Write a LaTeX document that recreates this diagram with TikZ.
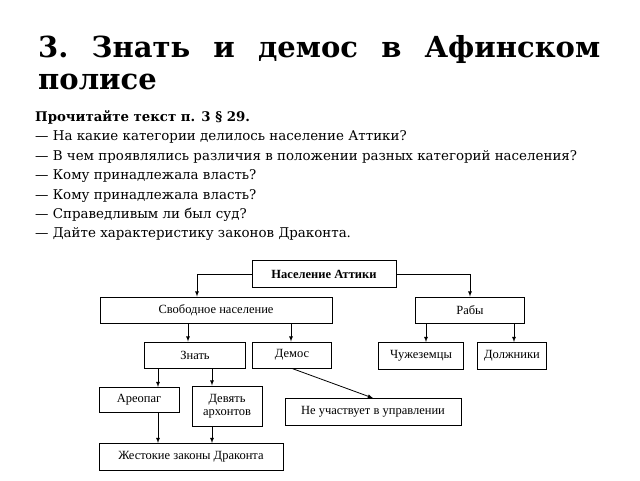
\documentclass[tikz,border=0pt]{standalone}
\usepackage{fontspec}
\setmainfont{DejaVu Serif}
\newfontfamily\boxfont{Liberation Serif}
\usetikzlibrary{positioning}

\begin{document}
\begin{tikzpicture}[x=1pt,y=-1pt,>=latex]
	\tikzstyle{every node}=[inner sep=0pt]
	\tikzstyle{box}=[draw,line width=0.9pt,font=\boxfont\fontsize{12.5}{13}\selectfont,align=center]
	\tikzstyle{question}=[anchor=base west,font=\fontsize{13.4}{14}\selectfont]
	\tikzstyle{line}=[line width=0.8pt]
	\useasboundingbox (0,0) rectangle (640,480);
	% heading
	\node[anchor=base west] (title1) at (38,57) {\fontsize{29}{32}\selectfont\bfseries\hbox to 562pt{3.\hfill Знать\hfill и\hfill демос\hfill в\hfill Афинском}};
	\node[anchor=base west] (title2) at (38,89) {\fontsize{29}{32}\selectfont\bfseries полисе};
	% questions
	\node[question,font=\fontsize{13.3}{14}\selectfont\bfseries] (task) at (35,121) {Прочитайте текст п. 3 § 29.};
	\node[question] (q1) at (35,140) {— На какие категории делилось население Аттики?};
	\node[question] (q2) at (35,160) {— В чем проявлялись различия в положении разных категорий населения?};
	\node[question] (q3) at (35,179) {— Кому принадлежала власть?};
	\node[question] (q4) at (35,199) {— Кому принадлежала власть?};
	\node[question] (q5) at (35,218) {— Справедливым ли был суд?};
	\node[question] (q6) at (35,237) {— Дайте характеристику законов Драконта.};
	% scheme
	\node[box,font=\boxfont\fontsize{12.5}{13}\selectfont\bfseries,minimum width=144pt,minimum height=27pt] (attika) at (324,274) {Население Аттики};
	\node[box,minimum width=232pt,minimum height=26pt] (free) at (216,310) {Свободное население};
	\node[box,minimum width=109pt,minimum height=26pt] (slaves) at (470,310) {Рабы};
	\node[box,minimum width=101pt,minimum height=26pt] (znat) at (195,355) {Знать};
	\node[box,minimum width=79pt,minimum height=26pt] (demos) at (292,355) {Демос};
	\node[box,minimum width=85pt,minimum height=27pt] (alien) at (421,356) {Чужеземцы};
	\node[box,minimum width=69pt,minimum height=27pt] (debtor) at (512,356) {Должники};
	\node[box,minimum width=80pt,minimum height=25pt] (areopag) at (139,400) {Ареопаг};
	\node[box,minimum width=70pt,minimum height=40pt] (archont) at (227,406) {Девять\\архонтов};
	\node[box,minimum width=176pt,minimum height=27pt] (nopower) at (373,412) {Не участвует в управлении};
	\node[box,minimum width=184pt,minimum height=27pt] (laws) at (191,457) {Жестокие законы Драконта};
	% connectors
	\draw[line,->] (attika.west) -| (free.north -| 197,0);
	\draw[line,->] (attika.east) -| (slaves.north);
	\draw[line,->] (free.south -| 188,0) -- (znat.north -| 188,0);
	\draw[line,->] (free.south -| 291,0) -- (demos.north -| 291,0);
	\draw[line,->] (slaves.south -| 426,0) -- (alien.north -| 426,0);
	\draw[line,->] (slaves.south -| 514,0) -- (debtor.north -| 514,0);
	\draw[line,->] (znat.south -| 158,0) -- (areopag.north -| 158,0);
	\draw[line,->] (znat.south -| 212,0) -- (archont.north -| 212,0);
	\draw[line,->] (areopag.south -| 158,0) -- (laws.north -| 158,0);
	\draw[line,->] (archont.south -| 212,0) -- (laws.north -| 212,0);
	\draw[line,->] (demos.south) -- (nopower.north);
\end{tikzpicture}
\end{document}
